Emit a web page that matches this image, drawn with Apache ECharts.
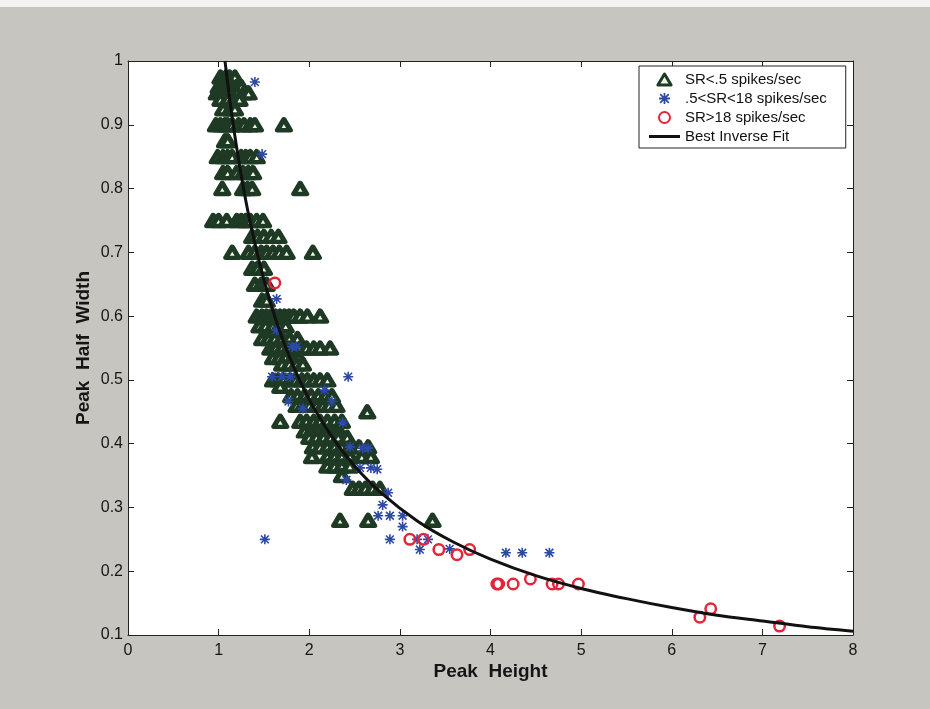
<!DOCTYPE html>
<html lang="en">
<head>
    <meta charset="UTF-8">
    <title>Peak Half Width vs Peak Height</title>
    <script src="https://cdn.jsdelivr.net/npm/echarts@6/dist/echarts.min.js"></script>
    <style>
        html, body { margin: 0; padding: 0; background: #c6c5c0; }
        #container { width: 930px; height: 709px; }
    </style>
</head>
<body>
    <div id="container"></div>
    <script>
        // SR<.5 spikes/sec : triangles, grouped by rows of equal half width
        var lowRowY = [0.975, 0.96, 0.95, 0.94, 0.925, 0.9, 0.875, 0.85, 0.825, 0.8,
            0.75, 0.725, 0.7, 0.675, 0.65, 0.625, 0.6, 0.585, 0.565, 0.55,
            0.535, 0.525, 0.5, 0.49, 0.475, 0.46, 0.45, 0.435, 0.42, 0.41,
            0.395, 0.38, 0.365, 0.35, 0.33, 0.28];
        var lowRowX = [
            [1.02, 1.08, 1.12, 1.18],
            [1.0, 1.05, 1.1, 1.15, 1.2, 1.25],
            [0.98, 1.03, 1.08, 1.13, 1.2, 1.28, 1.33],
            [1.02, 1.1, 1.17, 1.23],
            [1.05, 1.13, 1.18],
            [0.97, 1.02, 1.07, 1.1, 1.15, 1.22, 1.28, 1.35, 1.4, 1.72],
            [1.07, 1.1],
            [0.99, 1.05, 1.1, 1.15, 1.25, 1.3, 1.35, 1.42],
            [1.05, 1.1, 1.2, 1.27, 1.33, 1.38],
            [1.04, 1.27, 1.32, 1.37, 1.9],
            [0.94, 1.0, 1.09, 1.2, 1.25, 1.3, 1.35, 1.42, 1.49],
            [1.37, 1.43, 1.5, 1.58, 1.66],
            [1.15, 1.33, 1.4, 1.47, 1.53, 1.6, 1.67, 1.75, 2.04],
            [1.37, 1.43, 1.5],
            [1.4, 1.47, 1.53],
            [1.48, 1.53],
            [1.42, 1.48, 1.53, 1.58, 1.63, 1.68, 1.73, 1.78, 1.83, 1.9, 1.98, 2.12],
            [1.45, 1.52, 1.6, 1.67, 1.74],
            [1.48, 1.55, 1.62, 1.7, 1.78, 1.87],
            [1.57, 1.63, 1.7, 1.77, 1.83, 1.9, 1.97, 2.05, 2.12, 2.23],
            [1.6, 1.67, 1.74, 1.82, 1.88],
            [1.7, 1.78, 1.86, 1.93],
            [1.6, 1.66, 1.72, 1.79, 1.85, 1.92, 1.98, 2.05, 2.12, 2.2],
            [1.68],
            [1.8, 1.87, 1.95, 2.02, 2.1, 2.18, 2.25],
            [1.86, 1.93, 2.0, 2.08, 2.15, 2.22, 2.3],
            [2.64],
            [1.68, 1.9, 1.97, 2.05, 2.12, 2.2, 2.28, 2.36],
            [1.95, 2.02, 2.1, 2.18, 2.25, 2.33],
            [2.0, 2.08, 2.16, 2.24, 2.32, 2.42],
            [2.04, 2.12, 2.2, 2.28, 2.36, 2.45, 2.55, 2.65],
            [2.03, 2.2, 2.28, 2.36, 2.45, 2.58, 2.68],
            [2.2, 2.28, 2.36, 2.45],
            [2.36],
            [2.48, 2.55, 2.62, 2.7, 2.78],
            [2.34, 2.65, 3.36]
        ];

        // .5<SR<18 spikes/sec : asterisks
        var midPts = [
            [1.40, 0.967], [1.48, 0.854], [1.64, 0.627], [1.64, 0.578], [1.59, 0.505],
            [1.70, 0.505], [1.79, 0.505], [1.81, 0.552], [1.86, 0.552], [1.77, 0.466],
            [1.93, 0.455], [2.17, 0.484], [2.25, 0.466], [2.43, 0.505], [2.37, 0.433],
            [2.45, 0.395], [2.59, 0.393], [2.65, 0.393], [2.56, 0.362], [2.68, 0.362],
            [2.75, 0.36], [2.41, 0.343], [2.87, 0.323], [2.81, 0.304], [2.76, 0.287],
            [2.89, 0.287], [3.03, 0.287], [3.03, 0.27], [1.51, 0.25], [2.89, 0.25],
            [3.19, 0.25], [3.31, 0.25], [3.22, 0.234], [3.55, 0.235], [4.17, 0.229],
            [4.35, 0.229], [4.65, 0.229]
        ];

        // SR>18 spikes/sec : circles
        var highPts = [
            [1.62, 0.652], [3.11, 0.25], [3.26, 0.25], [3.43, 0.234], [3.63, 0.226],
            [3.77, 0.234], [4.07, 0.18], [4.09, 0.18], [4.25, 0.18], [4.44, 0.188],
            [4.68, 0.18], [4.75, 0.18], [4.97, 0.18], [6.31, 0.128], [6.43, 0.141],
            [7.19, 0.114]
        ];

        // best inverse fit
        var fitX = [1.07, 1.15, 1.25, 1.35, 1.5, 1.65, 1.8, 2.0, 2.25, 2.5, 2.8,
            3.2, 3.6, 4.0, 4.5, 5.0, 5.5, 6.0, 6.5, 7.0, 7.5, 8.0];
        var fitY = [1.0, 0.911, 0.82, 0.746, 0.657, 0.586, 0.53, 0.469, 0.411, 0.365, 0.322,
            0.278, 0.245, 0.219, 0.193, 0.173, 0.157, 0.143, 0.131, 0.122, 0.113, 0.106];

        var xTicks = [0, 8, 1];
        var yTicks = [0.1, 1, 0.1];

        var lowPts = [];
        lowRowY.forEach(function (y, i) {
            lowRowX[i].forEach(function (x) { lowPts.push([x, y]); });
        });
        var fitPts = fitX.map(function (x, i) { return [x, fitY[i]]; });

        var starPath = 'path://M0 8.4L20 8.4L20 11.6L0 11.6Z M8.4 0L11.6 0L11.6 20L8.4 20Z ' +
            'M1.1 3.3L3.3 1.1L18.9 16.7L16.7 18.9Z M16.7 1.1L18.9 3.3L3.3 18.9L1.1 16.7Z';
        var triIcon = 'path://M6 0L12 10L0 10Z';
        var lineIcon = 'path://M0 0L31 0L31 3L0 3Z';

        var font = 'Liberation Sans, Arial, Helvetica, sans-serif';
        var green = '#1e3a24';
        var blue = '#2c4aa5';
        var red = '#e2263a';

        var myChart = echarts.init(document.getElementById('container'));

        function frameAxis(pos) {
            return {
                type: 'value',
                position: pos,
                axisLine: { show: true, onZero: false, lineStyle: { color: '#222', width: 1 } },
                axisTick: { show: true, inside: true, length: 6, lineStyle: { color: '#222' } },
                axisLabel: { show: false },
                splitLine: { show: false }
            };
        }

        var xTop = frameAxis('top');
        xTop.min = xTicks[0]; xTop.max = xTicks[1]; xTop.interval = xTicks[2];
        var yRight = frameAxis('right');
        yRight.min = yTicks[0]; yRight.max = yTicks[1]; yRight.interval = yTicks[2];

        var option = {
            backgroundColor: '#c6c5c0',
            animation: false,
            graphic: [{
                type: 'rect',
                shape: { x: 0, y: 0, width: 930, height: 7 },
                style: { fill: '#f3f3f1' }
            }],
            grid: {
                left: 128, top: 61, right: 77, bottom: 74,
                show: true, backgroundColor: '#ffffff', borderWidth: 0
            },
            legend: {
                orient: 'vertical',
                left: 639, top: 66,
                padding: [6, 19, 4, 10],
                itemWidth: 31, itemHeight: 11, itemGap: 4,
                backgroundColor: '#ffffff',
                borderColor: '#222', borderWidth: 1,
                textStyle: { fontFamily: font, fontSize: 15, color: '#111' },
                data: [
                    { name: 'SR<.5 spikes/sec', icon: triIcon, itemStyle: { borderWidth: 3 } },
                    { name: '.5<SR<18 spikes/sec' },
                    { name: 'SR>18 spikes/sec' },
                    { name: 'Best Inverse Fit', icon: lineIcon, itemStyle: { color: '#111', borderWidth: 0 } }
                ]
            },
            xAxis: [{
                type: 'value',
                min: xTicks[0], max: xTicks[1], interval: xTicks[2],
                name: 'Peak  Height',
                nameLocation: 'middle',
                nameGap: 27,
                nameMoveOverlap: false,
                nameTextStyle: { fontFamily: font, fontSize: 19, fontWeight: 'bold', color: '#151515' },
                axisLine: { show: true, onZero: false, lineStyle: { color: '#222', width: 1 } },
                axisTick: { show: true, inside: true, length: 6, lineStyle: { color: '#222' } },
                axisLabel: { margin: 8, fontFamily: font, fontSize: 16, color: '#151515' },
                splitLine: { show: false }
            }, xTop],
            yAxis: [{
                type: 'value',
                min: yTicks[0], max: yTicks[1], interval: yTicks[2],
                name: 'Peak  Half  Width',
                nameLocation: 'middle',
                nameGap: 35,
                nameMoveOverlap: false,
                nameTextStyle: { fontFamily: font, fontSize: 19, fontWeight: 'bold', color: '#151515' },
                axisLine: { show: true, onZero: false, lineStyle: { color: '#222', width: 1 } },
                axisTick: { show: true, inside: true, length: 6, lineStyle: { color: '#222' } },
                axisLabel: {
                    margin: 5, fontFamily: font, fontSize: 16, color: '#151515',
                    formatter: function (v) { return String(+v.toFixed(1)); }
                },
                splitLine: { show: false }
            }, yRight],
            series: [{
                name: 'SR<.5 spikes/sec',
                type: 'scatter',
                data: lowPts,
                symbol: 'triangle',
                symbolSize: [13, 11],
                itemStyle: {
                    color: '#f2f5e6', borderColor: green, borderWidth: 4.8,
                    borderJoin: 'round', opacity: 1
                }
            }, {
                name: '.5<SR<18 spikes/sec',
                type: 'scatter',
                data: midPts,
                symbol: starPath,
                symbolSize: 10,
                itemStyle: { color: blue, opacity: 1 }
            }, {
                name: 'SR>18 spikes/sec',
                type: 'scatter',
                data: highPts,
                symbol: 'circle',
                symbolSize: 10.5,
                itemStyle: { color: 'rgba(0,0,0,0)', borderColor: red, borderWidth: 2.5, opacity: 1 }
            }, {
                name: 'Best Inverse Fit',
                type: 'line',
                data: fitPts,
                smooth: 0.3,
                symbol: 'none',
                lineStyle: { color: '#111', width: 3 },
                itemStyle: { color: '#111' }
            }]
        };

        myChart.setOption(option);
    </script>
</body>
</html>
